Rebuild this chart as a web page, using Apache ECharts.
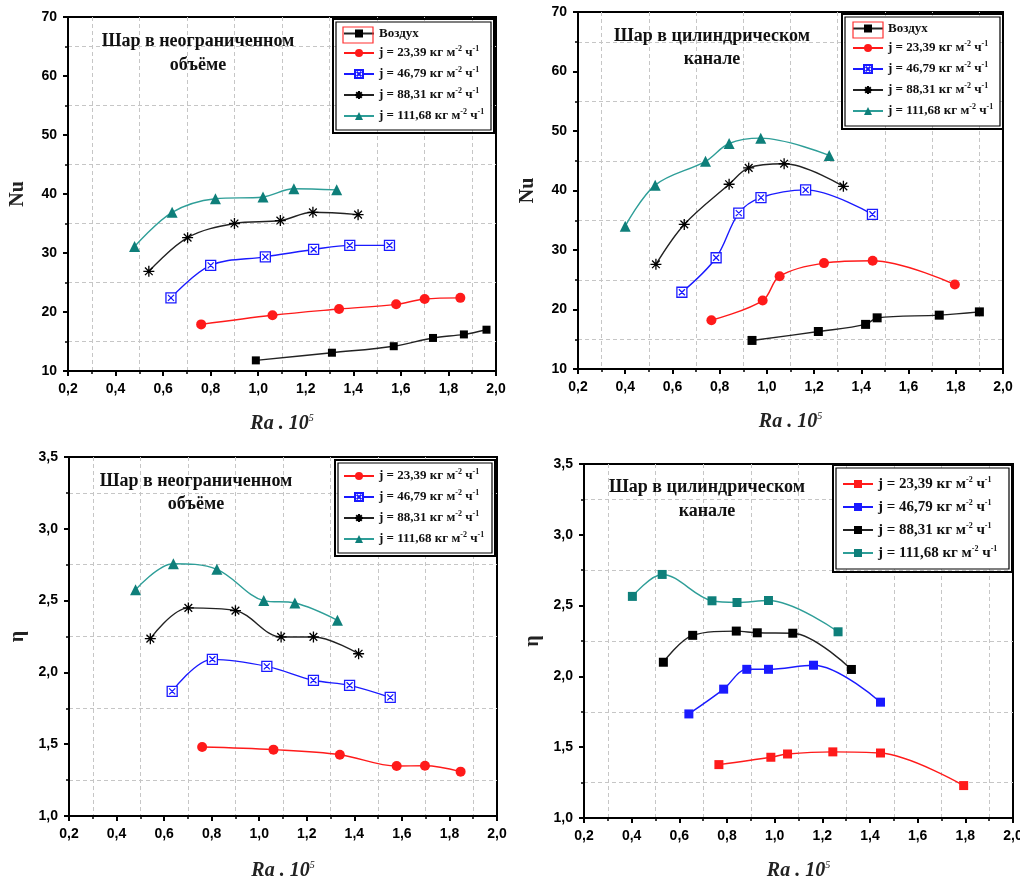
<!DOCTYPE html>
<html>
<head>
<meta charset="utf-8">
<script src="https://cdn.jsdelivr.net/npm/echarts@6/dist/echarts.min.js"></script>
<style>
  html, body { margin: 0; padding: 0; background: #fff; }
  #wrap { position: relative; width: 1020px; height: 879px; }
  .panel { position: absolute; }
</style>
</head>
<body>
<div id="wrap">
  <div id="p1" class="panel" style="left:0;top:0;width:510px;height:440px"></div>
  <div id="p2" class="panel" style="left:510px;top:0;width:510px;height:440px"></div>
  <div id="p3" class="panel" style="left:0;top:440px;width:510px;height:439px"></div>
  <div id="p4" class="panel" style="left:510px;top:440px;width:510px;height:439px"></div>
</div>
<script>
// ---- Data: [Ra·10^-5, value] pairs ----
// Nu, sphere in an unbounded volume
const nuOpenAir  = [[0.99,11.8],[1.31,13.1],[1.57,14.2],[1.735,15.6],[1.865,16.2],[1.96,17.0]];
const nuOpenJ23  = [[0.76,17.9],[1.06,19.45],[1.34,20.5],[1.58,21.3],[1.70,22.2],[1.85,22.4]];
const nuOpenJ46  = [[0.633,22.4],[0.80,27.9],[1.03,29.35],[1.233,30.6],[1.385,31.3],[1.552,31.3]];
const nuOpenJ88  = [[0.54,26.9],[0.703,32.6],[0.90,35.0],[1.093,35.5],[1.23,36.9],[1.42,36.5]];
const nuOpenJ111 = [[0.48,31.1],[0.638,36.9],[0.82,39.2],[1.02,39.5],[1.15,40.9],[1.33,40.7]];

// Nu, sphere in a cylindrical channel
const nuChanAir  = [[0.937,14.8],[1.218,16.3],[1.418,17.5],[1.467,18.6],[1.73,19.05],[1.90,19.6]];
const nuChanJ23  = [[0.765,18.2],[0.982,21.5],[1.054,25.6],[1.242,27.8],[1.448,28.2],[1.796,24.2]];
const nuChanJ46  = [[0.64,22.9],[0.785,28.7],[0.881,36.2],[0.975,38.8],[1.164,40.1],[1.447,36.0]];
const nuChanJ88  = [[0.53,27.6],[0.65,34.3],[0.84,41.05],[0.923,43.8],[1.073,44.5],[1.324,40.7]];
const nuChanJ111 = [[0.40,34.0],[0.527,40.9],[0.74,44.9],[0.84,47.9],[0.974,48.8],[1.264,45.9]];

// η, sphere in an unbounded volume
const etaOpenJ23  = [[0.76,1.48],[1.06,1.462],[1.339,1.427],[1.578,1.348],[1.697,1.35],[1.847,1.309]];
const etaOpenJ46  = [[0.634,1.868],[0.803,2.091],[1.032,2.042],[1.228,1.945],[1.38,1.91],[1.551,1.826]];
const etaOpenJ88  = [[0.542,2.235],[0.702,2.449],[0.90,2.43],[1.092,2.247],[1.228,2.247],[1.418,2.13]];
const etaOpenJ111 = [[0.48,2.576],[0.639,2.757],[0.822,2.718],[1.019,2.50],[1.15,2.483],[1.329,2.363]];

// η, sphere in a cylindrical channel
const etaChanJ23  = [[0.766,1.377],[0.984,1.429],[1.054,1.452],[1.244,1.467],[1.444,1.459],[1.793,1.229]];
const etaChanJ46  = [[0.64,1.735],[0.786,1.91],[0.883,2.05],[0.974,2.05],[1.163,2.079],[1.444,1.818]];
const etaChanJ88  = [[0.533,2.10],[0.656,2.29],[0.839,2.32],[0.927,2.308],[1.076,2.305],[1.322,2.049]];
const etaChanJ111 = [[0.403,2.565],[0.528,2.72],[0.737,2.534],[0.842,2.522],[0.974,2.536],[1.266,2.315]];

// Series names (legend text, units appended with superscripts)
const seriesNames = ['Воздух', 'j = 23,39', 'j = 46,79', 'j = 88,31', 'j = 111,68'];
const unitMain = ' кг м';
const unitExp1 = '-2';
const unitMid = ' ч';
const unitExp2 = '-1';

// Panel captions
const captionOpen = ['Шар в неограниченном', 'объёме'];
const captionChan = ['Шар в цилиндрическом', 'канале'];

// Axis ranges
const raRange = { min: 0.2, max: 2.0, step: 0.2 };
const nuRange = { min: 10, max: 70, step: 10 };
const etaRange = { min: 1.0, max: 3.5, step: 0.5 };

// ---- Styles ----
const C = {
  black: '#000000', red: '#ff1a1a', blue: '#1a1aff',
  tealMark: '#0e7f7a', tealLine: '#2e9e98', grey: '#222222'
};
const SYM_BOXX = 'path://M0,0 H10 V10 H0 Z M2,2 L8,8 M8,2 L2,8';
const SYM_STAR = 'path://M5,0 V10 M0,5 H10 M1.5,1.5 L8.5,8.5 M8.5,1.5 L1.5,8.5';

const serif = '"Liberation Serif", "DejaVu Serif", serif';
const sans = '"Liberation Sans", Arial, sans-serif';

function commaFmt(digits) {
  return v => v.toFixed(digits).replace('.', ',');
}

function lineSeries(name, data, color, lineColor, symbol, size, opts) {
  opts = opts || {};
  return {
    type: 'line', name: name, data: data,
    smooth: 0.35,
    symbol: symbol, symbolSize: size,
    showSymbol: true,
    lineStyle: { color: lineColor, width: 1.4 },
    itemStyle: Object.assign({ color: color }, opts.item || {}),
    z: 3
  };
}

function legendFormatter(name) {
  if (name === seriesNames[0]) return '{t|' + name + '}';
  return '{t|' + name + unitMain + '}{s|' + unitExp1 + '}{t|' + unitMid + '}{s|' + unitExp2 + '}';
}

function buildOption(cfg) {
  const graphic = [
    // legend double frame
    { type: 'rect', shape: { x: cfg.box[0], y: cfg.box[1], width: cfg.box[2], height: cfg.box[3] },
      style: { fill: '#fff', stroke: '#000', lineWidth: 1.2 }, z: 5 },
    { type: 'rect', shape: { x: cfg.box[0] - 3, y: cfg.box[1] - 3, width: cfg.box[2] + 6, height: cfg.box[3] + 6 },
      style: { fill: 'none', stroke: '#000', lineWidth: 2 }, z: 5 },
    // caption
    { type: 'text', x: cfg.caption.x, y: cfg.caption.y, z: 5,
      style: { text: cfg.caption.text.join('\n'), fill: '#111', textAlign: 'center', textVerticalAlign: 'middle',
        fontFamily: serif, fontWeight: 'bold', fontSize: 18, lineHeight: cfg.caption.lh } }
  ];
  if (cfg.mark) {
    graphic.push({ type: 'rect', shape: { x: cfg.mark[0], y: cfg.mark[1], width: cfg.mark[2], height: cfg.mark[3] },
      style: { fill: 'none', stroke: '#ff3030', lineWidth: 1.2 }, z: 20 });
  }
  const axisCommon = {
    type: 'value',
    nameLocation: 'middle',
    axisLine: { show: true, onZero: false, lineStyle: { color: '#000', width: 2 } },
    axisTick: { show: true, inside: false, length: 5, lineStyle: { color: '#000', width: 2 } },
    minorTick: { show: true, splitNumber: 2, length: 3, lineStyle: { color: '#000', width: 1.5 } },
    splitLine: { show: false },
    minorSplitLine: { show: true, lineStyle: { color: '#c6c6c6', type: [4, 3], width: 1 } }
  };
  return {
    animation: false,
    grid: { left: cfg.grid[0], top: cfg.grid[1], width: cfg.grid[2], height: cfg.grid[3],
      outerBoundsMode: 'none', containLabel: false,
      show: true, borderColor: '#000', borderWidth: 2, backgroundColor: 'transparent' },
    xAxis: Object.assign({}, axisCommon, {
      min: raRange.min, max: raRange.max, interval: raRange.step,
      name: '{n|Ra . 10}{s|5}', nameGap: cfg.xGap,
      nameTextStyle: { rich: {
        n: { fontFamily: serif, fontStyle: 'italic', fontWeight: 'bold', fontSize: 20, color: '#222', lineHeight: 22 },
        s: { fontFamily: serif, fontStyle: 'italic', fontSize: 10, color: '#222', verticalAlign: 'top', lineHeight: 10 }
      } },
      axisLabel: { margin: 11, color: '#000', fontFamily: sans, fontWeight: 'bold', fontSize: 14, formatter: commaFmt(1) }
    }),
    yAxis: Object.assign({}, axisCommon, {
      min: cfg.y.min, max: cfg.y.max, interval: cfg.y.step,
      name: cfg.yName, nameGap: cfg.yGap,
      nameTextStyle: { fontFamily: serif, fontWeight: 'bold', fontSize: 20, color: '#222' },
      axisLabel: { margin: 11, color: '#000', fontFamily: sans, fontWeight: 'bold', fontSize: 14,
        formatter: cfg.yFmt }
    }),
    legend: {
      orient: 'vertical', left: cfg.legend.left, top: cfg.legend.top, padding: 0,
      itemWidth: 30, itemHeight: 10, itemGap: cfg.legend.gap,
      selectedMode: false, z: 10,
      formatter: legendFormatter,
      textStyle: { rich: {
        t: { fontFamily: serif, fontWeight: 'bold', fontSize: cfg.legend.fs, color: '#111', lineHeight: 16 },
        s: { fontFamily: serif, fontWeight: 'bold', fontSize: 8, color: '#111', lineHeight: 16, verticalAlign: 'top', padding: [0, 0, 8, 0] }
      } }
    },
    graphic: graphic,
    series: cfg.series
  };
}

const openSeriesNu = [
  lineSeries(seriesNames[0], nuOpenAir, C.black, C.grey, 'rect', 8),
  lineSeries(seriesNames[1], nuOpenJ23, C.red, C.red, 'circle', 10),
  lineSeries(seriesNames[2], nuOpenJ46, '#fff', C.blue, SYM_BOXX, 10, { item: { borderColor: C.blue, borderWidth: 1.3 } }),
  lineSeries(seriesNames[3], nuOpenJ88, C.black, C.grey, SYM_STAR, 11, { item: { borderColor: C.black, borderWidth: 1.3 } }),
  lineSeries(seriesNames[4], nuOpenJ111, C.tealMark, C.tealLine, 'triangle', 11)
];
const chanSeriesNu = [
  lineSeries(seriesNames[0], nuChanAir, C.black, C.grey, 'rect', 9),
  lineSeries(seriesNames[1], nuChanJ23, C.red, C.red, 'circle', 10),
  lineSeries(seriesNames[2], nuChanJ46, '#fff', C.blue, SYM_BOXX, 10, { item: { borderColor: C.blue, borderWidth: 1.3 } }),
  lineSeries(seriesNames[3], nuChanJ88, C.black, C.grey, SYM_STAR, 11, { item: { borderColor: C.black, borderWidth: 1.3 } }),
  lineSeries(seriesNames[4], nuChanJ111, C.tealMark, C.tealLine, 'triangle', 11)
];
const openSeriesEta = [
  lineSeries(seriesNames[1], etaOpenJ23, C.red, C.red, 'circle', 10),
  lineSeries(seriesNames[2], etaOpenJ46, '#fff', C.blue, SYM_BOXX, 10, { item: { borderColor: C.blue, borderWidth: 1.3 } }),
  lineSeries(seriesNames[3], etaOpenJ88, C.black, C.grey, SYM_STAR, 11, { item: { borderColor: C.black, borderWidth: 1.3 } }),
  lineSeries(seriesNames[4], etaOpenJ111, C.tealMark, C.tealLine, 'triangle', 11)
];
const chanSeriesEta = [
  lineSeries(seriesNames[1], etaChanJ23, C.red, C.red, 'rect', 9),
  lineSeries(seriesNames[2], etaChanJ46, C.blue, C.blue, 'rect', 9),
  lineSeries(seriesNames[3], etaChanJ88, C.black, C.grey, 'rect', 9),
  lineSeries(seriesNames[4], etaChanJ111, C.tealMark, C.tealLine, 'rect', 9)
];

const panels = [
  { id: 'p1', grid: [68, 17, 428, 354], y: nuRange, yName: 'Nu', yFmt: v => String(v), xGap: 42, yGap: 40,
    series: openSeriesNu,
    legend: { left: 343, top: 27, gap: 5, fs: 13 }, box: [336, 22, 155, 108], mark: [343, 27, 30, 16],
    caption: { text: captionOpen, x: 198, y: 53, lh: 24 } },
  { id: 'p2', grid: [68, 12, 425, 357], y: nuRange, yName: 'Nu', yFmt: v => String(v), xGap: 42, yGap: 40,
    series: chanSeriesNu,
    legend: { left: 342, top: 22, gap: 5, fs: 13 }, box: [335, 17, 155, 109], mark: [343, 22, 30, 16],
    caption: { text: captionChan, x: 202, y: 48, lh: 23 } },
  { id: 'p3', grid: [69, 17, 428, 359], y: etaRange, yName: 'η', yFmt: commaFmt(1), xGap: 44, yGap: 40,
    series: openSeriesEta,
    legend: { left: 343, top: 28, gap: 5, fs: 13 }, box: [338, 23, 154, 90],
    caption: { text: captionOpen, x: 196, y: 53, lh: 23 } },
  { id: 'p4', grid: [74, 24, 429, 354], y: etaRange, yName: 'η', yFmt: commaFmt(1), xGap: 42, yGap: 40,
    series: chanSeriesEta,
    legend: { left: 332, top: 36, gap: 7, fs: 15 }, box: [326, 28, 173, 101],
    caption: { text: captionChan, x: 197, y: 59, lh: 24 } }
];

panels.forEach(p => {
  const chart = echarts.init(document.getElementById(p.id), null, { renderer: 'canvas' });
  chart.setOption(buildOption(p));
});
</script>
</body>
</html>
